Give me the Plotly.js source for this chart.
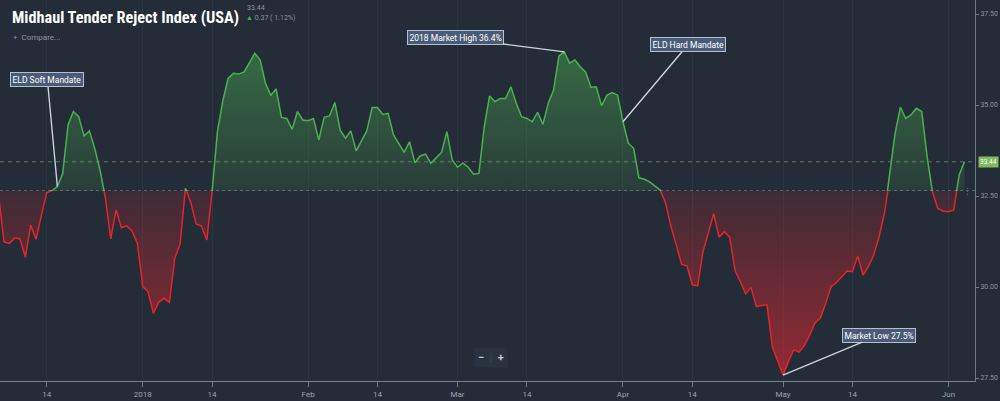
<!DOCTYPE html>
<html>
<head>
<meta charset="utf-8">
<script src="https://cdn.plot.ly/plotly-3.0.1.min.js"></script>
<style>
html,body{margin:0;padding:0;background:#232c37;}
#chart{width:1000px;height:401px;}
</style>
</head>
<body>
<div id="chart"></div>
<script>
// ---- data ----
const startDate = '2017-12-05';
const dec = [32.50,31.24,31.20,31.35,31.32,30.82,31.70,31.31,31.97,32.59,32.65,32.76,33.12,34.45,34.82,34.68,34.15,34.29,33.81,33.21,32.45,31.32,32.12,31.63,31.68,31.54,31.20];
const jan = [30.01,29.87,29.28,29.58,29.69,29.58,30.79,31.18,32.71,32.33,31.73,31.68,31.29,32.62,34.27,35.11,35.73,35.87,35.85,35.91,36.16,36.42,36.24,35.60,35.27,35.44,34.66,34.63,34.33,34.82,34.59];
const feb = [34.57,34.63,34.04,34.66,34.70,35.07,34.31,34.09,34.29,33.74,34.01,34.29,34.93,34.93,34.74,34.77,34.18,33.95,33.70,33.99,33.41,33.60,33.65,33.40,33.54,33.70,34.27,33.49];
const mar = [33.29,33.41,33.29,33.10,33.12,34.40,35.25,35.09,35.18,35.18,35.50,35.05,34.68,34.63,34.54,34.80,34.47,35.05,35.41,36.35,36.46,36.15,36.24,36.05,35.91,35.49,35.50,34.98,35.27,35.34,35.27];
const apr = [34.54,33.95,33.81,33.00,32.96,32.89,32.77,32.66,32.30,31.66,31.15,30.62,30.58,30.06,30.03,30.97,31.48,32.02,31.37,31.52,31.37,30.45,30.15,29.81,29.99,29.46,29.49,29.51,28.36,27.95];
const may = [27.58,27.95,28.27,28.21,28.39,28.68,29.01,29.15,29.55,30.01,30.12,30.28,30.44,30.42,30.85,30.33,30.56,30.88,31.38,32.02,33.12,34.22,34.94,34.63,34.73,34.91,34.82,33.58,32.62,32.16,32.09];
const jun = [32.07,32.12,33.07,33.44];
const values = [].concat(dec, jan, feb, mar, apr, may, jun);
const BASE = 32.64;
const LAST = 33.44;

const xTickVals = ['2017-12-14','2018-01-01','2018-01-14','2018-02-01','2018-02-14','2018-03-01','2018-03-14','2018-04-01','2018-04-14','2018-05-01','2018-05-14','2018-06-01'];
const xTickText = ['14','2018','14','Feb','14','Mar','14','Apr','14','May','14','Jun'];
const yTickVals = [27.5, 30, 32.5, 35, 37.5];
const yTickText = ['27.50','30.00','32.50','35.00','37.50'];

const notes = [
  {date:'2017-12-16', text:'ELD Soft Mandate', ax:-10, ay:-107},
  {date:'2018-03-21', text:'2018 Market High 36.4%', ax:-109, ay:-14},
  {date:'2018-04-01', text:'ELD Hard Mandate', ax:65, ay:-77},
  {date:'2018-05-01', text:'Market Low 27.5%', ax:96, ay:-40}
];

// ---- dates ----
const dates = [];
(function(){
  const d0 = new Date(startDate + 'T00:00:00Z');
  for (let i = 0; i < values.length; i++) {
    const d = new Date(d0.getTime() + i * 86400000);
    dates.push(d.toISOString().slice(0,10));
  }
})();

const Y_LO = 27.418, Y_HI = 37.885;
const split = (BASE - Y_LO) / (Y_HI - Y_LO);
const baseArr = dates.map(() => BASE);

const GREEN = '#4cb050', RED = '#e3252c';

const traces = [
  {x: dates, y: baseArr, yaxis: 'y', mode: 'lines', line: {width: 0, color: 'rgba(0,0,0,0)'}, hoverinfo: 'skip', showlegend: false},
  {x: dates, y: values, yaxis: 'y', mode: 'lines', line: {color: GREEN, width: 1.5}, fill: 'tonexty',
   fillgradient: {type: 'vertical', start: BASE, stop: 36.5,
     colorscale: [[0, 'rgba(76,175,80,0.13)'], [1, 'rgba(76,175,80,0.48)']]},
   hoverinfo: 'skip', showlegend: false},
  {x: dates, y: baseArr, yaxis: 'y2', mode: 'lines', line: {width: 0, color: 'rgba(0,0,0,0)'}, hoverinfo: 'skip', showlegend: false},
  {x: dates, y: values, yaxis: 'y2', mode: 'lines', line: {color: RED, width: 1.5}, fill: 'tonexty',
   fillgradient: {type: 'vertical', start: 27.5, stop: BASE,
     colorscale: [[0, 'rgba(229,40,48,0.58)'], [1, 'rgba(229,40,48,0.14)']]},
   hoverinfo: 'skip', showlegend: false}
];

const axisCommon = {
  side: 'right', anchor: 'x', showgrid: false, zeroline: false,
  showline: true, linecolor: '#6f7a86', linewidth: 1,
  ticks: 'outside', ticklen: 3, tickcolor: '#6f7a86',
  tickmode: 'array', tickvals: yTickVals, ticktext: yTickText,
  tickfont: {family: 'Roboto, sans-serif', size: 7, color: '#8e97a1'}, fixedrange: true
};

const annotations = notes.map(n => {
  const i = dates.indexOf(n.date);
  return {
    x: dates[i], y: values[i], xref: 'x', yref: values[i] >= BASE ? 'y' : 'y2',
    text: n.text, showarrow: true, arrowhead: 0, arrowwidth: 1.4, arrowcolor: '#c9d2de',
    ax: n.ax, ay: n.ay, standoff: 0,
    bgcolor: '#4a5b78', bordercolor: '#b4bfcf', borderwidth: 1, borderpad: 1.5,
    font: {family: 'Roboto, sans-serif', size: 8.5, color: '#ffffff'}
  };
});

annotations.push(
  {xref: 'paper', yref: 'paper', x: 245/975, y: (381-8)/381, xanchor: 'left', yanchor: 'middle', showarrow: false,
   text: '33.44', font: {family: 'Roboto, sans-serif', size: 7, color: '#8e97a1'}},
  {xref: 'paper', yref: 'paper', x: 244/975, y: (381-18)/381, xanchor: 'left', yanchor: 'middle', showarrow: false,
   text: '<span style="color:#4cb050">▲</span> 0.37 ( 1.12%)', font: {family: 'Roboto, sans-serif', size: 7, color: '#8e97a1'}},
  {xref: 'paper', yref: 'paper', x: 11/975, y: (381-37)/381, xanchor: 'left', yanchor: 'middle', showarrow: false,
   text: '<span style="color:#6f8fbf">+</span>  Compare...', font: {family: 'Roboto, sans-serif', size: 8, color: '#8e97a1'}},
  {xref: 'paper', yref: 'y', x: 988/975, y: LAST, xanchor: 'center', yanchor: 'middle', showarrow: false,
   text: '33.44', bgcolor: '#7dbb5c', borderpad: 1, font: {family: 'Roboto, sans-serif', size: 6.5, color: '#ffffff'}},
  {xref: 'paper', yref: 'y', x: 967/975, y: BASE, xanchor: 'center', yanchor: 'middle', showarrow: false,
   text: '⋮', font: {family: 'DejaVu Sans, sans-serif', size: 9, color: '#5f7fae'}},
  {xref: 'paper', yref: 'paper', x: 491/975, y: (381-357)/381, xanchor: 'center', yanchor: 'middle', showarrow: false,
   text: '<b>−</b>  <span style="color:#3a4553">|</span>  <b>+</b>', bgcolor: '#29333f', borderpad: 3,
   font: {family: 'Roboto, sans-serif', size: 11, color: '#c0c7cf'}}
);

const shapes = [
  {type: 'line', xref: 'paper', x0: 0, x1: 1, yref: 'y', y0: LAST, y1: LAST,
   line: {color: 'rgba(110,150,110,0.75)', width: 1, dash: '4px,4px'}},
  {type: 'line', xref: 'paper', x0: 0, x1: 1, yref: 'y', y0: BASE, y1: BASE,
   line: {color: 'rgba(190,195,200,0.6)', width: 1, dash: 'dot'}}
];

const layout = {
  width: 1000, height: 401,
  paper_bgcolor: '#232c37', plot_bgcolor: '#232c37',
  margin: {l: 0, r: 25, t: 0, b: 20},
  showlegend: false,
  title: {
    text: '<b>Midhaul Tender Reject Index (USA)</b>',
    xref: 'paper', x: 12/975, xanchor: 'left',
    yref: 'container', y: 1 - 17/401, yanchor: 'middle',
    font: {family: '"Roboto Condensed", "Liberation Sans Narrow", "Arial Narrow", "DejaVu Sans Condensed", Roboto, sans-serif', size: 16.3, color: '#ffffff'}
  },
  xaxis: {
    type: 'date', anchor: 'y2', range: ['2017-12-05 06:00', '2018-06-05 23:30'],
    tickmode: 'array', tickvals: xTickVals, ticktext: xTickText,
    ticks: 'outside', ticklen: 5, tickcolor: '#6f7a86',
    showline: true, linecolor: '#7a848f', linewidth: 1,
    showgrid: true, gridcolor: 'rgba(255,255,255,0.045)', gridwidth: 1,
    zeroline: false, fixedrange: true,
    tickfont: {family: 'Roboto, sans-serif', size: 8, color: '#9ba4ae'}
  },
  yaxis: Object.assign({}, axisCommon, {domain: [split, 1], range: [BASE, Y_HI]}),
  yaxis2: Object.assign({}, axisCommon, {domain: [0, split], range: [Y_LO, BASE]}),
  annotations: annotations,
  shapes: shapes
};

Plotly.newPlot('chart', traces, layout, {displayModeBar: false, staticPlot: true});
</script>
</body>
</html>
